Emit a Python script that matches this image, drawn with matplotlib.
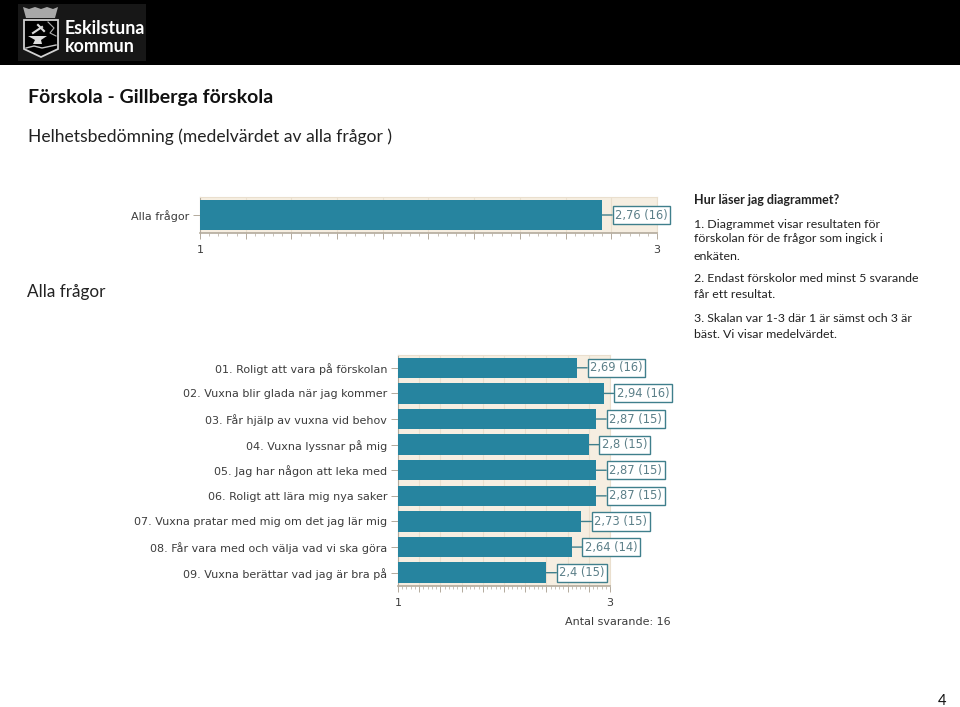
import matplotlib
matplotlib.use("Agg")
import matplotlib.pyplot as plt
from matplotlib.patches import Rectangle, Polygon
import numpy as np

W, H = 960, 707

overall_labels = ["Alla frågor"]
overall_values = [2.76]
overall_counts = [16]

question_labels = [
    "01. Roligt att vara på förskolan",
    "02. Vuxna blir glada när jag kommer",
    "03. Får hjälp av vuxna vid behov",
    "04. Vuxna lyssnar på mig",
    "05. Jag har någon att leka med",
    "06. Roligt att lära mig nya saker",
    "07. Vuxna pratar med mig om det jag lär mig",
    "08. Får vara med och välja vad vi ska göra",
    "09. Vuxna berättar vad jag är bra på",
]
question_values = [2.69, 2.94, 2.87, 2.8, 2.87, 2.87, 2.73, 2.64, 2.4]
question_counts = [16, 16, 15, 15, 15, 15, 15, 14, 15]

help_title = "Hur läser jag diagrammet?"
help_lines = [
    ("1. Diagrammet visar resultaten för", 224),
    ("förskolan för de frågor som ingick i", 239),
    ("enkäten.", 256),
    ("2. Endast förskolor med minst 5 svarande", 279),
    ("får ett resultat.", 295),
    ("3. Skalan var 1-3 där 1 är sämst och 3 är", 319),
    ("bäst. Vi visar medelvärdet.", 335),
]

BAR = "#26849f"
BG = "#f6eee1"
GRID = "#eadfce"
AXC = "#b3aa9c"
TXT = "#3c3c3c"
VAL = "#5b7f88"
EDGE = "#3f7f8c"
BODY = ["Lato", "Open Sans", "DejaVu Sans"]
CHART = ["DejaVu Sans"]
CHART_SIZE = 8.0
VALUE_SIZE = 8.3

fig = plt.figure(figsize=(W / 100, H / 100), dpi=100, facecolor="white")

page = fig.add_axes([0, 0, 1, 1])
page.set_xlim(0, W)
page.set_ylim(H, 0)
page.axis("off")

# header band and logo
page.add_patch(Rectangle((0, 0), W, 65, color="black", lw=0))
page.add_patch(Rectangle((18, 4), 128, 57, color="#171717", lw=0))
page.add_patch(Polygon([(23, 7), (29, 9), (35, 7), (41, 9), (47, 7), (53, 9), (58, 7),
                        (55, 18), (26, 18)], closed=True, fc="#a8a8a8", lw=0))
page.add_patch(Polygon([(24, 20), (58, 20), (58, 49), (41, 57), (24, 49)],
                       closed=True, fc="black", ec="#d0d0d0", lw=1.3))
page.add_patch(Polygon([(28, 36), (47, 36), (41, 40), (42, 44), (33, 44), (35, 40)],
                       closed=True, fc="#dcdcdc", lw=0))
page.plot([33, 42], [33, 27], color="#dcdcdc", lw=1.5)
page.plot([38, 44], [25, 31], color="#dcdcdc", lw=1.5)
page.plot([26, 34, 42, 56], [48, 46, 48, 45], color="#c8c8c8", lw=1)
page.plot([48, 54, 50, 56], [22, 28, 33, 36], color="#b0b0b0", lw=0.8)
page.text(65, 29, "Eskilstuna", color="white", fontsize=12.8, fontweight="bold",
          family=BODY, va="center", ha="left")
page.text(65, 46, "kommun", color="white", fontsize=12.8, fontweight="bold",
          family=BODY, va="center", ha="left")

page.text(28, 97, "Förskola - Gillberga förskola", fontsize=14, fontweight="bold",
          family=BODY, color="#111111", va="center")
page.text(28, 137, "Helhetsbedömning (medelvärdet av alla frågor )", fontsize=12.6,
          family=BODY, color="#222222", va="center")
page.text(27, 291.5, "Alla frågor", fontsize=12.3, family=BODY, color="#222222", va="center")
page.text(694, 200, help_title, fontsize=9, fontweight="bold", family=BODY,
          color="#222222", va="center")
for line, y in help_lines:
    page.text(694, y, line, fontsize=8.9, family=BODY, color="#222222", va="center")
page.text(942, 701, "4", fontsize=10.5, family=BODY, color="#111111", va="center", ha="center")


def chart(left, right, top, bottom, labels, values, counts, height):
    ax = fig.add_axes([left / W, 1 - bottom / H, (right - left) / W, (bottom - top) / H])
    y = np.arange(len(values))
    ax.set_facecolor(BG)
    ax.set_xlim(1, 3)
    ax.set_ylim(len(values) - 0.5, -0.5)
    ax.barh(y, np.array(values) - 1, left=1, height=height, color=BAR, zorder=3)
    ax.set_xticks(np.arange(1, 3.01, 0.2))
    ax.xaxis.grid(True, color=GRID, lw=0.8, zorder=1)
    ax.set_xticks(np.arange(1, 3.01, 0.04), minor=True)
    ax.set_xticklabels(["1"] + [""] * 9 + ["3"], family=CHART, fontsize=CHART_SIZE, color=TXT)
    ax.tick_params(axis="x", which="major", length=4, width=0.7, color=AXC, pad=5)
    ax.tick_params(axis="x", which="minor", length=2, width=0.5, color=AXC)
    ax.set_yticks(y)
    ax.set_yticklabels(labels, family=CHART, fontsize=CHART_SIZE, color=TXT)
    ax.tick_params(axis="y", length=5, width=0.7, color=AXC, pad=2.7)
    for side in ("top", "right"):
        ax.spines[side].set_color(GRID)
    ax.spines["left"].set_color(AXC)
    ax.spines["bottom"].set_color(AXC)
    ax.spines["bottom"].set_linewidth(1.2)
    for yi, v, c in zip(y, values, counts):
        ax.annotate(f"{v:g} ({c})".replace(".", ","), xy=(v, yi), xytext=(13, 0),
                    textcoords="offset pixels", va="center", ha="left",
                    family=CHART, fontsize=VALUE_SIZE, color=VAL, annotation_clip=False, zorder=5,
                    bbox=dict(boxstyle="square,pad=0.22", fc="white", ec=EDGE, lw=1),
                    arrowprops=dict(arrowstyle="-", color=EDGE, lw=1, shrinkA=0, shrinkB=0))
    return ax


chart(200, 657, 197.5, 232.5, overall_labels, overall_values, overall_counts, 0.83)
ax2 = chart(398, 610, 355, 585.5, question_labels, question_values, question_counts, 0.8)
page.text(671, 622, "Antal svarande: 16", family=CHART, fontsize=CHART_SIZE, color=TXT,
          ha="right", va="center")

fig.savefig("out.png", dpi=100, facecolor="white")
